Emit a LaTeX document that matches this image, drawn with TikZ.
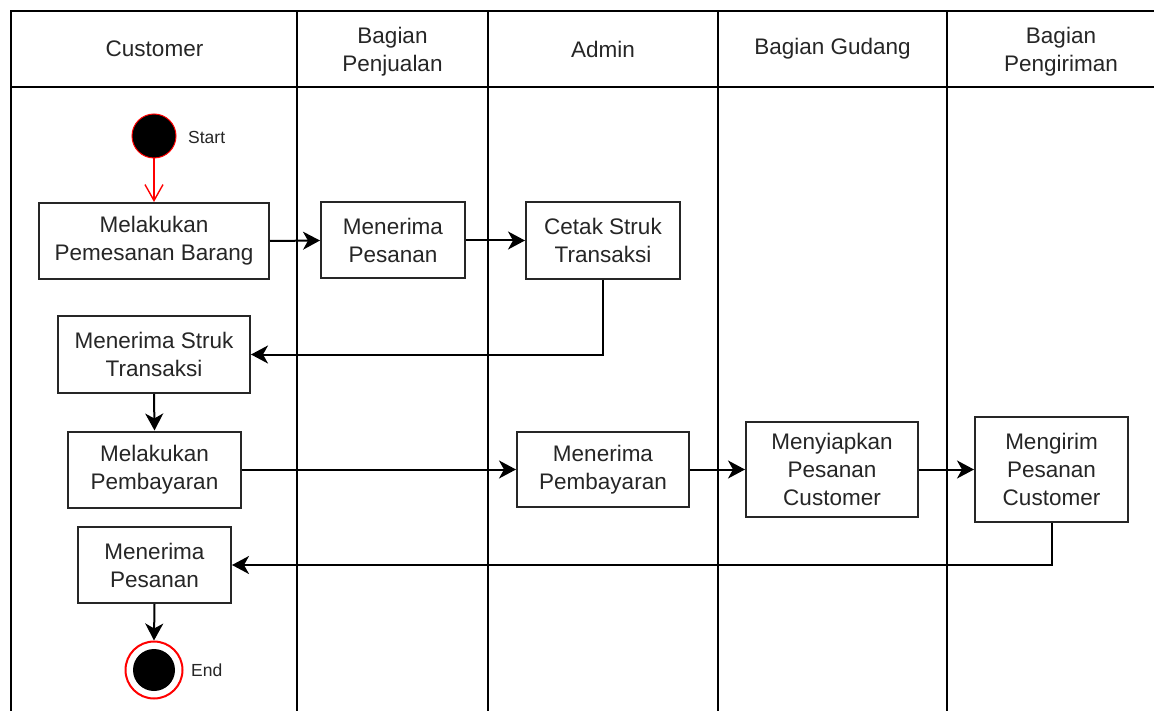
\documentclass[tikz,border=0pt]{standalone}
\usepackage{fontspec}
\setmainfont{Liberation Sans}
\usetikzlibrary{arrows.meta}
\begin{document}
\begin{tikzpicture}[x=1pt,y=-1pt,
  lane/.style={line width=2pt,draw=black},
  box/.style={draw=black!85,line width=2pt,fill=white,inner sep=0pt,align=center,
    font=\fontsize{22.5pt}{28pt}\selectfont,text=black!85},
  head/.style={inner sep=0pt,align=center,font=\fontsize{22.5pt}{28pt}\selectfont,text=black!85},
  lbl/.style={inner sep=0pt,anchor=west,font=\fontsize{17.5pt}{20pt}\selectfont,text=black!85},
  flow/.style={line width=2pt,draw=black,-{Stealth[length=17pt,width=18pt,inset=5pt]}},
  startflow/.style={line width=1.4pt,draw=red,-{Straight Barb[length=16pt,width=18pt,line width=1.4pt]}}
]
\useasboundingbox (0,0) rectangle (1154,711);
\fill[white] (0,0) rectangle (1154,711);
% swimlane table
\begin{scope}
\clip (0,0) rectangle (1154,711);
\draw[lane] (1180,11) -- (11,11) -- (11,720);
\draw[lane] (11,87) -- (1180,87);
\draw[lane] (297,11) -- (297,720);
\draw[lane] (488,11) -- (488,720);
\draw[lane] (718,11) -- (718,720);
\draw[lane] (947,11) -- (947,720);
\end{scope}
% headers
\node[head] (h1) at (154.5,49) {Customer};
\node[head] (h2) at (392.5,52) {Bagian\\Penjualan};
\node[head] (h3) at (603,49) {Admin};
\node[head] (h4) at (832.5,49) {Bagian Gudang};
\node[head] (h5) at (1061,52) {Bagian\\Pengiriman};
% start / end
\node[circle,fill=black,draw=red,line width=1pt,minimum size=44pt,inner sep=0pt] (start) at (154,136) {};
\node[lbl] (startl) at (188,137) {Start};
\node[circle,draw=red,line width=2pt,fill=white,minimum size=57pt,inner sep=0pt] (end) at (154,670) {};
\node[circle,fill=black,minimum size=42pt,inner sep=0pt] (endin) at (154,670) {};
\node[lbl] (endl) at (191,670) {End};
% activities
\node[box,minimum width=230pt,minimum height=76pt] (b1) at (154,241) {Melakukan\\Pemesanan Barang};
\node[box,minimum width=144pt,minimum height=76pt] (b2) at (393,240.5) {Menerima\\Pesanan};
\node[box,minimum width=154pt,minimum height=77pt] (b3) at (603,240.5) {Cetak Struk\\Transaksi};
\node[box,minimum width=192pt,minimum height=77pt] (b4) at (154,354.5) {Menerima Struk\\Transaksi};
\node[box,minimum width=173pt,minimum height=76pt] (b5) at (154.5,469.5) {Melakukan\\Pembayaran};
\node[box,minimum width=172pt,minimum height=75pt] (b6) at (603,469.5) {Menerima\\Pembayaran};
\node[box,minimum width=172pt,minimum height=95pt] (b7) at (832,469.5) {Menyiapkan\\Pesanan\\Customer};
\node[box,minimum width=153pt,minimum height=105pt] (b8) at (1051.5,469.5) {Mengirim\\Pesanan\\Customer};
\node[box,minimum width=153pt,minimum height=76pt] (b9) at (154.5,565) {Menerima\\Pesanan};
% connectors
\draw[startflow] (start) -- (b1.north);
\draw[flow] (b1.east) -- (b2.west);
\draw[flow] (b2.east) -- (b3.west);
\draw[flow] (b3.south) |- (b4.east);
\draw[flow] (b4.south) -- (b5.north);
\draw[flow] (b5.east) -- (b6.west);
\draw[flow] (b6.east) -- (b7.west);
\draw[flow] (b7.east) -- (b8.west);
\draw[flow] (b8.south) |- (b9.east);
\draw[flow] (b9.south) -- (end.north);
\end{tikzpicture}
\end{document}
